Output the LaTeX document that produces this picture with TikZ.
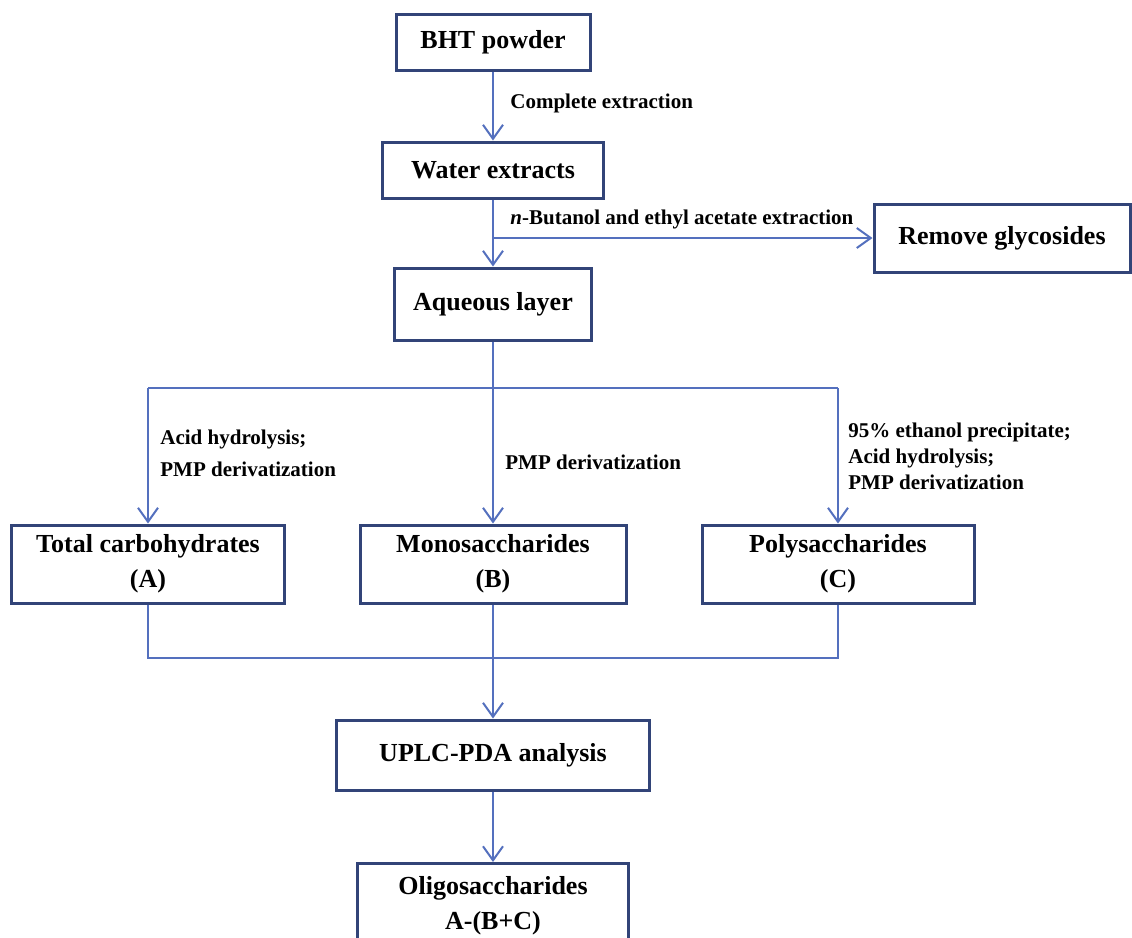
\documentclass[tikz,border=0pt]{standalone}
\usepackage{fontspec}
\setmainfont{Liberation Serif}
\usetikzlibrary{arrows.meta}
\definecolor{boxblue}{RGB}{50,68,120}
\definecolor{lineblue}{RGB}{84,112,190}

\begin{document}
\begin{tikzpicture}[x=0.5pt,y=-0.5pt]
        \tikzstyle{stage}=[rectangle,draw=boxblue,line width=1.5pt,fill=white,align=center,inner sep=2pt,font=\bfseries\fontsize{13}{17.5}\selectfont]
        \tikzstyle{note}=[anchor=west,align=left,inner sep=0pt,font=\bfseries\fontsize{10.5}{13}\selectfont]
        \tikzstyle{link}=[draw=lineblue,line width=1pt]
        \tikzstyle{flow}=[link,-{Straight Barb[length=7pt,width=10pt]}]
        \useasboundingbox (0,0) rectangle (1132,938);
       \begin{scope}
         % main column
         \node [stage,minimum width=97pt,minimum height=28pt] (bht) at (493,42) {BHT powder};
         \node [stage,minimum width=110.5pt,minimum height=28pt] (water) at (493,170) {Water extracts};
         \node [stage,minimum width=128pt,minimum height=34pt] (remove) at (1002,238) {Remove glycosides};
         \node [stage,minimum width=98.5pt,minimum height=36pt] (aqueous) at (493,304) {Aqueous layer};
         % three fractions
         \node [stage,minimum width=136.5pt,minimum height=39pt] (total) at (148,564) {Total carbohydrates\\(A)};
         \node [stage,minimum width=133pt,minimum height=39pt] (mono) at (493,564) {Monosaccharides\\(B)};
         \node [stage,minimum width=136pt,minimum height=39pt] (poly) at (838,564) {Polysaccharides\\(C)};
         \node [stage,minimum width=156.5pt,minimum height=35pt] (uplc) at (493,755) {UPLC-PDA analysis};
         \node [stage,minimum width=135.5pt,minimum height=42pt,anchor=north] (oligo) at (493,862) {Oligosaccharides\\A-(B+C)};
         % branch points
         \coordinate (fork) at (493,238);
         \coordinate (split) at (493,388);
         \coordinate (lsplit) at (148,388);
         \coordinate (rsplit) at (838,388);
         \coordinate (join) at (493,658);
         \coordinate (ljoin) at (148,658);
         \coordinate (rjoin) at (838,658);
         % connectors
         \path[flow] (bht) -- (water);
         \path[flow] (water) -- (aqueous);
         \path[flow] (fork) -- (remove.west);
         \path[link] (aqueous) -- (split);
         \path[link] (lsplit) -- (rsplit);
         \path[flow] (lsplit) -- (total);
         \path[flow] (split) -- (mono);
         \path[flow] (rsplit) -- (poly);
         \path[link] (total) -- (ljoin) -- (rjoin) -- (poly);
         \path[link] (mono) -- (join);
         \path[flow] (join) -- (uplc);
         \path[flow] (uplc) -- (oligo);
         % labels
         \node [note] (l1) at (510,103) {Complete extraction};
         \node [note] (l2) at (510,219) {\textit{n}-Butanol and ethyl acetate extraction};
         \node [note,font=\bfseries\fontsize{10.5}{16}\selectfont] (l3) at (160,453) {Acid hydrolysis;\\PMP derivatization};
         \node [note] (l4) at (505,462) {PMP derivatization};
         \node [note] (l5) at (848,456) {95\% ethanol precipitate;\\Acid hydrolysis;\\PMP derivatization};
        \end{scope}
      \end{tikzpicture}
\end{document}
